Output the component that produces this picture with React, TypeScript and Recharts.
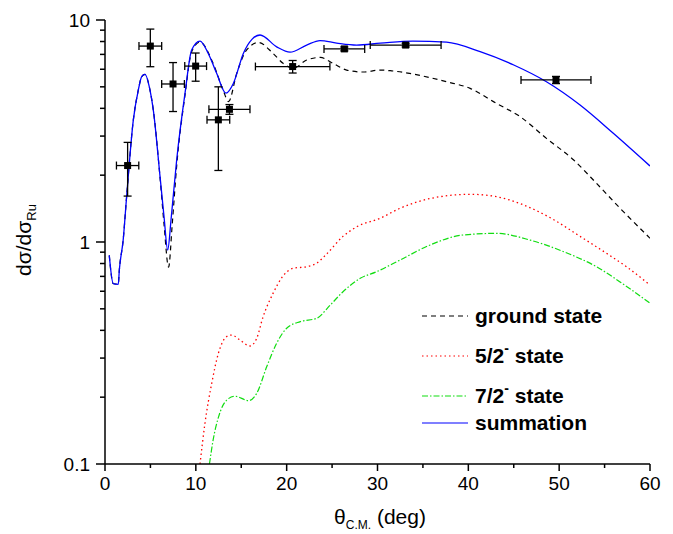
import React from 'react';
import { ComposedChart, Line, Scatter, ErrorBar, XAxis, YAxis } from 'recharts';

const FONT = '"Liberation Sans", Arial, Helvetica, sans-serif';

// ground state (dashed black)
const groundAngle = [0.47, 0.9, 1.46, 1.58, 2.0, 2.38, 3.12, 3.67, 4.04, 4.4, 4.95, 5.32, 6.06, 6.5, 7.0, 7.4, 7.89, 8.81, 9.54, 10.46, 11.9, 13.0, 13.6, 14.5, 15.6, 16.9, 18.5, 19.6, 20.7, 22.2, 23.7, 25.1, 26.6, 28.4, 30.3, 31.4, 33.9, 37.6, 40.2, 43.1, 45.7, 48.6, 51.6, 54.1, 56.7, 60];
const groundValue = [0.87, 0.65, 0.645, 0.75, 1.02, 1.6, 3.55, 4.84, 5.56, 5.69, 4.84, 3.93, 1.95, 1.2, 0.77, 1.2, 2.2, 4.6, 7.2, 7.95, 6.38, 4.84, 4.29, 5.75, 7.33, 7.92, 7.07, 6.38, 6.06, 6.6, 6.78, 6.38, 5.95, 5.83, 5.95, 5.91, 5.71, 5.27, 4.92, 4.21, 3.67, 2.93, 2.34, 1.84, 1.42, 1.04];

// 5/2- state (red dotted)
const state52Angle = [10.46, 11.0, 11.75, 12.48, 13.4, 13.95, 14.86, 15.96, 16.7, 17.4, 18.5, 19.6, 20.7, 22.2, 23.3, 24.4, 26.2, 27.7, 30.3, 32.5, 35.8, 40.2, 43.1, 46.05, 49.4, 52.3, 55.2, 57.4, 60];
const state52Value = [0.1, 0.152, 0.231, 0.315, 0.375, 0.381, 0.362, 0.34, 0.368, 0.46, 0.587, 0.703, 0.761, 0.774, 0.802, 0.883, 1.06, 1.17, 1.28, 1.42, 1.57, 1.64, 1.6, 1.47, 1.26, 1.06, 0.89, 0.774, 0.64];

// 7/2- state (green dash-dot)
const state72Angle = [11.5, 11.9, 12.5, 13.4, 14.3, 15.8, 16.7, 17.8, 18.9, 20.0, 21.5, 23.3, 24.8, 26.2, 28.1, 29.9, 32.5, 35.8, 39.4, 43.1, 46.8, 50.5, 54.1, 57.2, 60];
const state72Value = [0.1, 0.128, 0.163, 0.194, 0.202, 0.193, 0.208, 0.274, 0.35, 0.409, 0.438, 0.453, 0.52, 0.597, 0.686, 0.735, 0.83, 0.97, 1.075, 1.094, 1.02, 0.904, 0.774, 0.64, 0.53];

// summation (solid blue)
const sumAngle = [0.47, 0.9, 1.46, 1.58, 2.0, 2.38, 3.12, 3.67, 4.04, 4.4, 4.95, 5.32, 6.06, 6.5, 6.9, 7.3, 7.89, 8.81, 9.54, 10.46, 11.37, 12.29, 13.32, 14.13, 15.23, 16.2, 17.07, 18.9, 20.37, 22.2, 23.67, 25.5, 27.7, 30.3, 33.9, 37.6, 41.3, 45.0, 48.6, 52.3, 55.96, 60];
const sumValue = [0.87, 0.65, 0.645, 0.75, 1.02, 1.6, 3.55, 4.84, 5.56, 5.69, 4.84, 3.93, 1.97, 1.3, 0.92, 1.3, 2.34, 4.68, 7.33, 8.04, 7.07, 5.75, 4.68, 5.18, 7.07, 8.2, 8.56, 7.57, 7.16, 7.71, 8.08, 7.87, 7.71, 7.86, 8.04, 7.95, 7.2, 6.27, 5.27, 4.14, 3.09, 2.2];

// measured points with errors
const expAngle = [2.49, 4.99, 7.49, 9.98, 12.48, 13.7, 20.66, 26.35, 33.1, 49.65];
const expValue = [2.21, 7.63, 5.15, 6.2, 3.55, 3.96, 6.17, 7.41, 7.71, 5.37];
const expAngleErr = [1.23, 1.25, 1.25, 1.2, 1.25, 2.26, 4.1, 2.24, 3.9, 3.85];
const expValueErr = [0.6, 1.47, 1.28, 0.9, 1.45, 0.2, 0.4, 0.15, 0.15, 0.2];

const xTicks = [0, 5, 10, 15, 20, 25, 30, 35, 40, 45, 50, 55, 60];
const xLabels = [0, 10, 20, 30, 40, 50, 60];
const yTicks = [0.1, 0.2, 0.3, 0.4, 0.5, 0.6, 0.7, 0.8, 0.9, 1, 2, 3, 4, 5, 6, 7, 8, 9, 10];
const yLabels = [0.1, 1, 10];

const toSeries = (xs: number[], ys: number[]) => xs.map((x, i) => ({ x, y: ys[i] }));

const groundData = toSeries(groundAngle, groundValue);
const s52Data = toSeries(state52Angle, state52Value);
const s72Data = toSeries(state72Angle, state72Value);
const sumData = toSeries(sumAngle, sumValue);
const expData = expAngle.map((x, i) => ({ x, y: expValue[i], ex: expAngleErr[i], ey: expValueErr[i] }));

function XTick({ x, y, payload }: any) {
  const v = payload.value;
  const major = xLabels.includes(v);
  return (
    <g>
      <line x1={x} x2={x} y1={y} y2={y + (major ? 7 : 4)} stroke="#000" strokeWidth={1.5} />
      {major && (
        <text x={x} y={y + 26} textAnchor="middle" fontSize={19} fontFamily={FONT} fill="#000">{v}</text>
      )}
    </g>
  );
}

function YTick({ x, y, payload }: any) {
  const v = payload.value;
  const major = yLabels.some((m) => Math.abs(m - v) < 1e-9);
  return (
    <g>
      <line x1={x} x2={x - (major ? 9 : 5)} y1={y} y2={y} stroke="#000" strokeWidth={1.5} />
      {major && (
        <text x={x - 15} y={y + 7} textAnchor="end" fontSize={19} fontFamily={FONT} fill="#000">{v}</text>
      )}
    </g>
  );
}

const Square = (p: any) => <rect x={p.cx - 3.5} y={p.cy - 3.5} width={7} height={7} fill="#000" />;

const legendRows = [
  { y: 316, stroke: '#000', dash: '5 4', label: 'ground state', sup: false },
  { y: 356, stroke: '#ff0000', dash: '1.5 3', label: '5/2', sup: true },
  { y: 396, stroke: '#11dd11', dash: '6 2 1.5 2', label: '7/2', sup: true },
  { y: 423, stroke: '#0000ff', dash: undefined, label: 'summation', sup: false },
];

function Overlay() {
  return (
    <svg width={673} height={534} style={{ position: 'absolute', left: 0, top: 0, pointerEvents: 'none' }}>
      {legendRows.map((r) => (
        <g key={r.label}>
          <line x1={422} x2={468} y1={r.y} y2={r.y} stroke={r.stroke} strokeWidth={1.2} strokeDasharray={r.dash} />
          <text x={475} y={r.y + 7} fontSize={21} fontWeight="bold" fontFamily={FONT} fill="#000">
            {r.label}
            {r.sup && <tspan dy={-10} fontSize={14}>-</tspan>}
            {r.sup && <tspan dy={10}> state</tspan>}
          </text>
        </g>
      ))}
      <text x={380} y={524} textAnchor="middle" fontSize={21} fontFamily={FONT} fill="#000">
        θ<tspan dy={5} fontSize={12}>C.M.</tspan><tspan dy={-5}> (deg)</tspan>
      </text>
      <text transform="translate(31,240) rotate(-90)" textAnchor="middle" fontSize={21} fontFamily={FONT} fill="#000">
        dσ/dσ<tspan dy={5} fontSize={13}>Ru</tspan>
      </text>
    </svg>
  );
}

export default function App() {
  return (
    <div style={{ position: 'absolute', left: 0, top: 0, width: 673, height: 534, background: '#fff' }}>
      <ComposedChart width={673} height={534} margin={{ top: 20, right: 23, bottom: 0, left: 0 }}>
        <XAxis
          dataKey="x"
          type="number"
          domain={[0, 60]}
          ticks={xTicks}
          interval={0}
          allowDataOverflow
          height={70}
          tickSize={0}
          tickMargin={0}
          tickLine={false}
          axisLine={{ stroke: '#000', strokeWidth: 1.5 }}
          tick={<XTick />}
        />
        <YAxis
          type="number"
          scale="log"
          domain={[0.1, 10]}
          ticks={yTicks}
          interval={0}
          allowDataOverflow
          width={105}
          tickSize={0}
          tickMargin={0}
          tickLine={false}
          axisLine={{ stroke: '#000', strokeWidth: 1.5 }}
          tick={<YTick />}
        />
        <Line data={groundData} dataKey="y" type="monotone" stroke="#000" strokeWidth={1.2} strokeDasharray="5 4" dot={false} activeDot={false} isAnimationActive={false} />
        <Line data={s52Data} dataKey="y" type="monotone" stroke="#ff0000" strokeWidth={1.3} strokeDasharray="1.5 3" dot={false} activeDot={false} isAnimationActive={false} />
        <Line data={s72Data} dataKey="y" type="monotone" stroke="#11dd11" strokeWidth={1.2} strokeDasharray="6 2 1.5 2" dot={false} activeDot={false} isAnimationActive={false} />
        <Line data={sumData} dataKey="y" type="monotone" stroke="#0000ff" strokeWidth={1.3} dot={false} activeDot={false} isAnimationActive={false} />
        <Scatter data={expData} dataKey="y" shape={Square} isAnimationActive={false}>
          <ErrorBar dataKey="ex" direction="x" width={4} stroke="#000" strokeWidth={1.3} isAnimationActive={false} />
          <ErrorBar dataKey="ey" direction="y" width={4} stroke="#000" strokeWidth={1.3} isAnimationActive={false} />
        </Scatter>
      </ComposedChart>
      <Overlay />
    </div>
  );
}
